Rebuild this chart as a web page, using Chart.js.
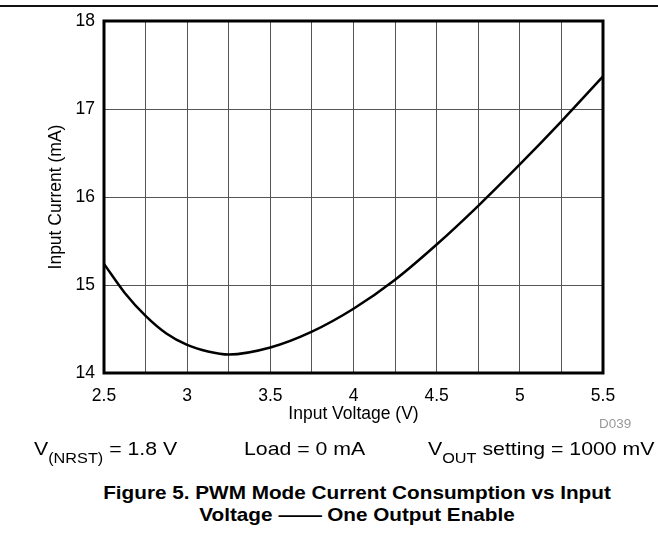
<!DOCTYPE html>
<html>
<head>
<meta charset="utf-8">
<script src="https://cdn.jsdelivr.net/npm/chart.js@4.4.1/dist/chart.umd.min.js"></script>
<style>
  body { margin: 0; background: #fff; font-family: "Liberation Sans", Arial, sans-serif; }
  #wrap { position: relative; width: 658px; height: 540px; overflow: hidden; }
  #topline { position: absolute; left: 0; top: 5px; width: 658px; height: 2px; background: #111; }
  #chartBox { position: absolute; left: 0; top: 0; width: 658px; height: 440px; }
  .txt { position: absolute; white-space: nowrap; color: #000; }
  /* the source figure is a little wider than Arial, so the HTML text is stretched */
  .note { font-size: 19px; top: 438px; transform: scaleX(1.12); transform-origin: 0 0; }
  .note sub { font-size: 14.5px; vertical-align: -8px; line-height: 0; }
  .cap { font-size: 18.5px; font-weight: bold; width: 658px; text-align: center; left: 28px;
         transform: scaleX(1.12); transform-origin: 50% 0; }
  .dash { display: inline-block; transform: scaleX(2.1); margin: 0 10px; }
  #d039 { font-size: 12px; color: #999; left: 599px; top: 417px; transform: scaleX(1.12); transform-origin: 0 0; }
</style>
</head>
<body>
<div id="wrap">
  <div id="topline"></div>
  <div id="chartBox"><canvas id="myLineChart" width="658" height="440"></canvas></div>
  <div class="txt" id="d039">D039</div>
  <div class="txt note" style="left:34px">V<sub>(NRST)</sub> = 1.8 V</div>
  <div class="txt note" style="left:244px">Load = 0 mA</div>
  <div class="txt note" style="left:428px">V<sub>OUT</sub> setting = 1000 mV</div>
  <div class="txt cap" style="top:482px">Figure 5. PWM Mode Current Consumption vs Input</div>
  <div class="txt cap" style="top:504px">Voltage <span class="dash">—</span> One Output Enable</div>
</div>
<script>
// Input voltage (V) and input current (mA)
var inputVoltage = [2.5, 2.625, 2.75, 2.875, 3.0, 3.125, 3.25, 3.5, 3.75, 4.0, 4.25, 4.5, 4.75, 5.0, 5.25, 5.5];
var inputCurrent = [15.24, 14.91, 14.65, 14.45, 14.32, 14.245, 14.21, 14.29, 14.47, 14.73, 15.06, 15.46, 15.9, 16.37, 16.86, 17.37];

var xTickLabels = [2.5, 3, 3.5, 4, 4.5, 5, 5.5];
var yTickLabels = [14, 15, 16, 17, 18];

var points = inputVoltage.map(function(v, i) {
    return { x: v, y: inputCurrent[i] };
});

var fontFamily = '"Liberation Sans", Arial, sans-serif';

// thick frame round the plot area
var frame = {
    id: 'frame',
    afterDraw: function(chart) {
        var a = chart.chartArea, c = chart.ctx;
        c.save();
        c.strokeStyle = '#000';
        c.lineWidth = 3;
        c.strokeRect(a.left, a.top, a.right - a.left, a.bottom - a.top);
        c.restore();
    }
};

var ctx = document.getElementById('myLineChart');
new Chart(ctx.getContext('2d'), {
    type: 'line',
    data: {
        datasets: [{
            label: 'Input Current',
            data: points,
            borderColor: '#000',
            borderWidth: 2.5,
            pointRadius: 0,
            cubicInterpolationMode: 'monotone',
            fill: false
        }]
    },
    options: {
        responsive: false,
        animation: false,
        devicePixelRatio: 1,
        layout: {
            padding: { left: 0, right: 55, top: 21, bottom: 0 }
        },
        scales: {
            x: {
                type: 'linear',
                min: 2.5,
                max: 5.5,
                afterFit: function(scale) { scale.height = 67; },
                ticks: {
                    stepSize: 0.25,
                    autoSkip: false,
                    maxRotation: 0,
                    padding: 13,
                    color: '#000',
                    font: { family: fontFamily, size: 17.5 },
                    callback: function(value) {
                        return xTickLabels.indexOf(value) >= 0 ? String(value) : '';
                    }
                },
                grid: { color: '#555', lineWidth: 1, drawTicks: false },
                border: { display: false },
                title: {
                    display: true,
                    text: 'Input Voltage (V)',
                    color: '#000',
                    font: { family: fontFamily, size: 17.5 },
                    padding: { top: 0, bottom: 15 }
                }
            },
            y: {
                min: 14,
                max: 18,
                afterFit: function(scale) { scale.width = 104; },
                ticks: {
                    stepSize: 1,
                    padding: 9,
                    color: '#000',
                    font: { family: fontFamily, size: 17.5 },
                    callback: function(value) {
                        return yTickLabels.indexOf(value) >= 0 ? String(value) : '';
                    }
                },
                grid: { color: '#555', lineWidth: 1, drawTicks: false },
                border: { display: false },
                title: {
                    display: true,
                    text: 'Input Current (mA)',
                    color: '#000',
                    font: { family: fontFamily, size: 17.5 },
                    padding: { top: 46, bottom: 0 }
                }
            }
        },
        plugins: {
            legend: { display: false },
            tooltip: { enabled: false }
        }
    },
    plugins: [frame]
});
</script>
</body>
</html>
